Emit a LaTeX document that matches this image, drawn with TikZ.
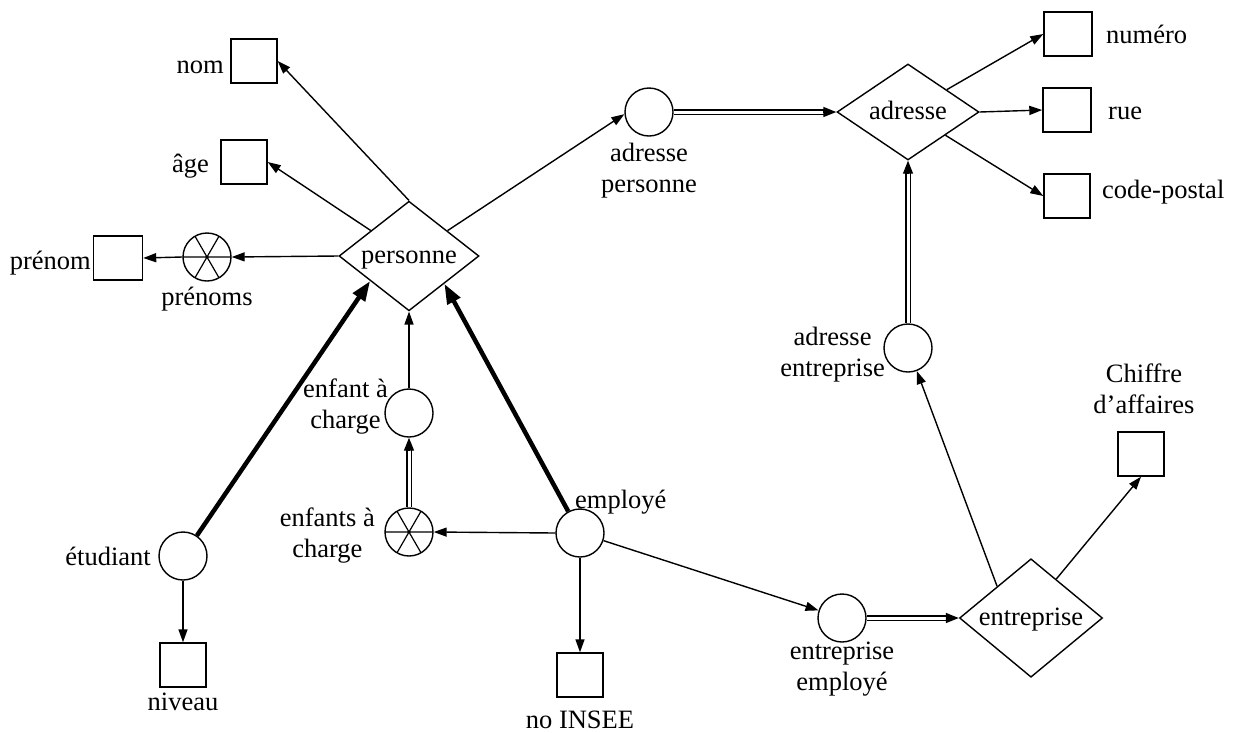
\documentclass[tikz,border=0pt]{standalone}
\usepackage{fontspec}
\setmainfont{Liberation Serif}
\usetikzlibrary{arrows.meta,shapes.geometric,calc}

\begin{document}
\begin{tikzpicture}[x=1pt,y=-1pt,
  font=\fontsize{26.5}{31}\selectfont,
  attr/.style={draw, line width=1.4, minimum width=46, minimum height=44, inner sep=0},
  ent/.style={circle, draw, line width=1.4, minimum size=48, inner sep=0},
  multi/.style={ent, path picture={
      \draw[line width=1.2]
        (path picture bounding box.west) -- (path picture bounding box.east)
        ($(path picture bounding box.center)+(60:26)$) -- ($(path picture bounding box.center)+(240:26)$)
        ($(path picture bounding box.center)+(120:26)$) -- ($(path picture bounding box.center)+(300:26)$);}},
  rel/.style={diamond, draw, line width=1.4, minimum width=140, minimum height=94, inner sep=0,
              text height=14pt, text depth=0pt},
  lbl/.style={inner sep=0},
  arr/.style={line width=1.4, -{Triangle[length=13pt,width=9pt]}},
  isa/.style={line width=4.5, -{Triangle[length=20pt,width=14pt]}},
  dbl/.style={double, double distance=3, line width=1.3, shorten >=11pt},
  tipline/.style={line width=1.4, -{Triangle[length=13pt,width=10pt]}},
]
\useasboundingbox (0,0) rectangle (1234,732);

% relationship diamonds
\node[rel] (pers) at (409,256) {personne};
\node[rel, minimum width=142, minimum height=96] (adr) at (908,112) {adresse};
\node[rel, minimum width=143] (entr) at (1031,618) {entreprise};

% entity circles
\node[ent] (ap) at (649,112) {};
\node[ent] (ae) at (908,348) {};
\node[ent] (ee) at (842,618) {};
\node[ent] (emp) at (580,533) {};
\node[ent] (enf) at (409,413) {};
\node[ent] (etu) at (183,556) {};
\node[multi] (pren) at (207,257) {};
\node[multi] (eac) at (409,532) {};

% attribute boxes
\node[attr] (nom) at (254,61) {};
\node[attr] (age) at (244,162) {};
\node[attr, minimum width=49] (prenom) at (118,258) {};
\node[attr, minimum width=48] (num) at (1068,34) {};
\node[attr, minimum width=48] (rue) at (1067,110) {};
\node[attr] (cp) at (1067,196) {};
\node[attr] (ca) at (1141,454) {};
\node[attr] (niv) at (183,665) {};
\node[attr] (insee) at (580,675) {};

% labels
\node[lbl, anchor=base east] (lnom) at (224,73) {nom};
\node[lbl, anchor=base east] (lage) at (209,172) {âge};
\node[lbl, anchor=base east] (lprenom) at (91,269) {prénom};
\node[lbl, anchor=base] (lpren) at (207,305) {prénoms};
\node[lbl, anchor=north, align=center] (lap) at (649,143) {adresse\\personne};
\node[lbl, anchor=base west] (lnum) at (1106,43) {numéro};
\node[lbl, anchor=base west] (lrue) at (1108,119) {rue};
\node[lbl, anchor=base west] (lcp) at (1102,198) {code-postal};
\node[lbl, anchor=north east, align=center] (lae) at (885,327) {adresse\\entreprise};
\node[lbl, anchor=north, align=center] (lca) at (1144,364) {Chiffre\\d’affaires};
\node[lbl, anchor=north east, align=center] (lenf) at (388,379) {enfant à\\charge};
\node[lbl, anchor=north east, align=center] (leac) at (375,508) {enfants à\\charge};
\node[lbl, anchor=base east] (letu) at (151,565) {étudiant};
\node[lbl, anchor=base] (lniv) at (183,710) {niveau};
\node[lbl, anchor=base west] (lemp) at (575,508) {employé};
\node[lbl, anchor=base] (linsee) at (580,728) {no INSEE};
\node[lbl, anchor=north, align=center] (lee) at (842,642) {entreprise\\employé};

% personne
\draw[arr] (pers.north) -- (nom.east);
\draw[arr] (pers) -- (age.east);
\draw[arr] (pers.west) -- (pren.east);
\draw[arr] (pren.west) -- (prenom.east);
\draw[arr] (pers) -- (ap.185);
\draw[dbl] (ap.east) -- (adr.west);
\draw[tipline] ($(adr.west)!13pt!(ap.east)$) -- (adr.west);

% adresse
\draw[arr] (adr) -- (num.west);
\draw[arr] (adr.east) -- (rue.west);
\draw[arr] (adr) -- (cp.west);
\draw[dbl] (ae.north) -- (adr.south);
\draw[tipline] ($(adr.south)!13pt!(ae.north)$) -- (adr.south);

% entreprise
\draw[arr] ($(entr.west)!0.53!(entr.north)$) -- (ae.-69);
\draw[arr] ($(entr.north)!0.35!(entr.east)$) -- (ca.south);
\draw[dbl] (ee.east) -- (entr.west);
\draw[tipline] ($(entr.west)!13pt!(ee.east)$) -- (entr.west);

% employé
\draw[arr] (emp) -- (ee);
\draw[arr] (emp.south) -- (insee.north);
\draw[arr] (emp.west) -- (eac.east);
\draw[dbl] (eac.north) -- (enf.south);
\draw[tipline] ($(enf.south)!13pt!(eac.north)$) -- (enf.south);
\draw[arr] (enf.north) -- (pers.south);

% specialisations
\draw[isa] (etu) -- ($(pers.west)!0.45!(pers.south)$);
\draw[isa] (emp) -- ($(pers.south)!0.5!(pers.east)$);
\draw[arr] (etu.south) -- (niv.north);
\end{tikzpicture}
\end{document}
